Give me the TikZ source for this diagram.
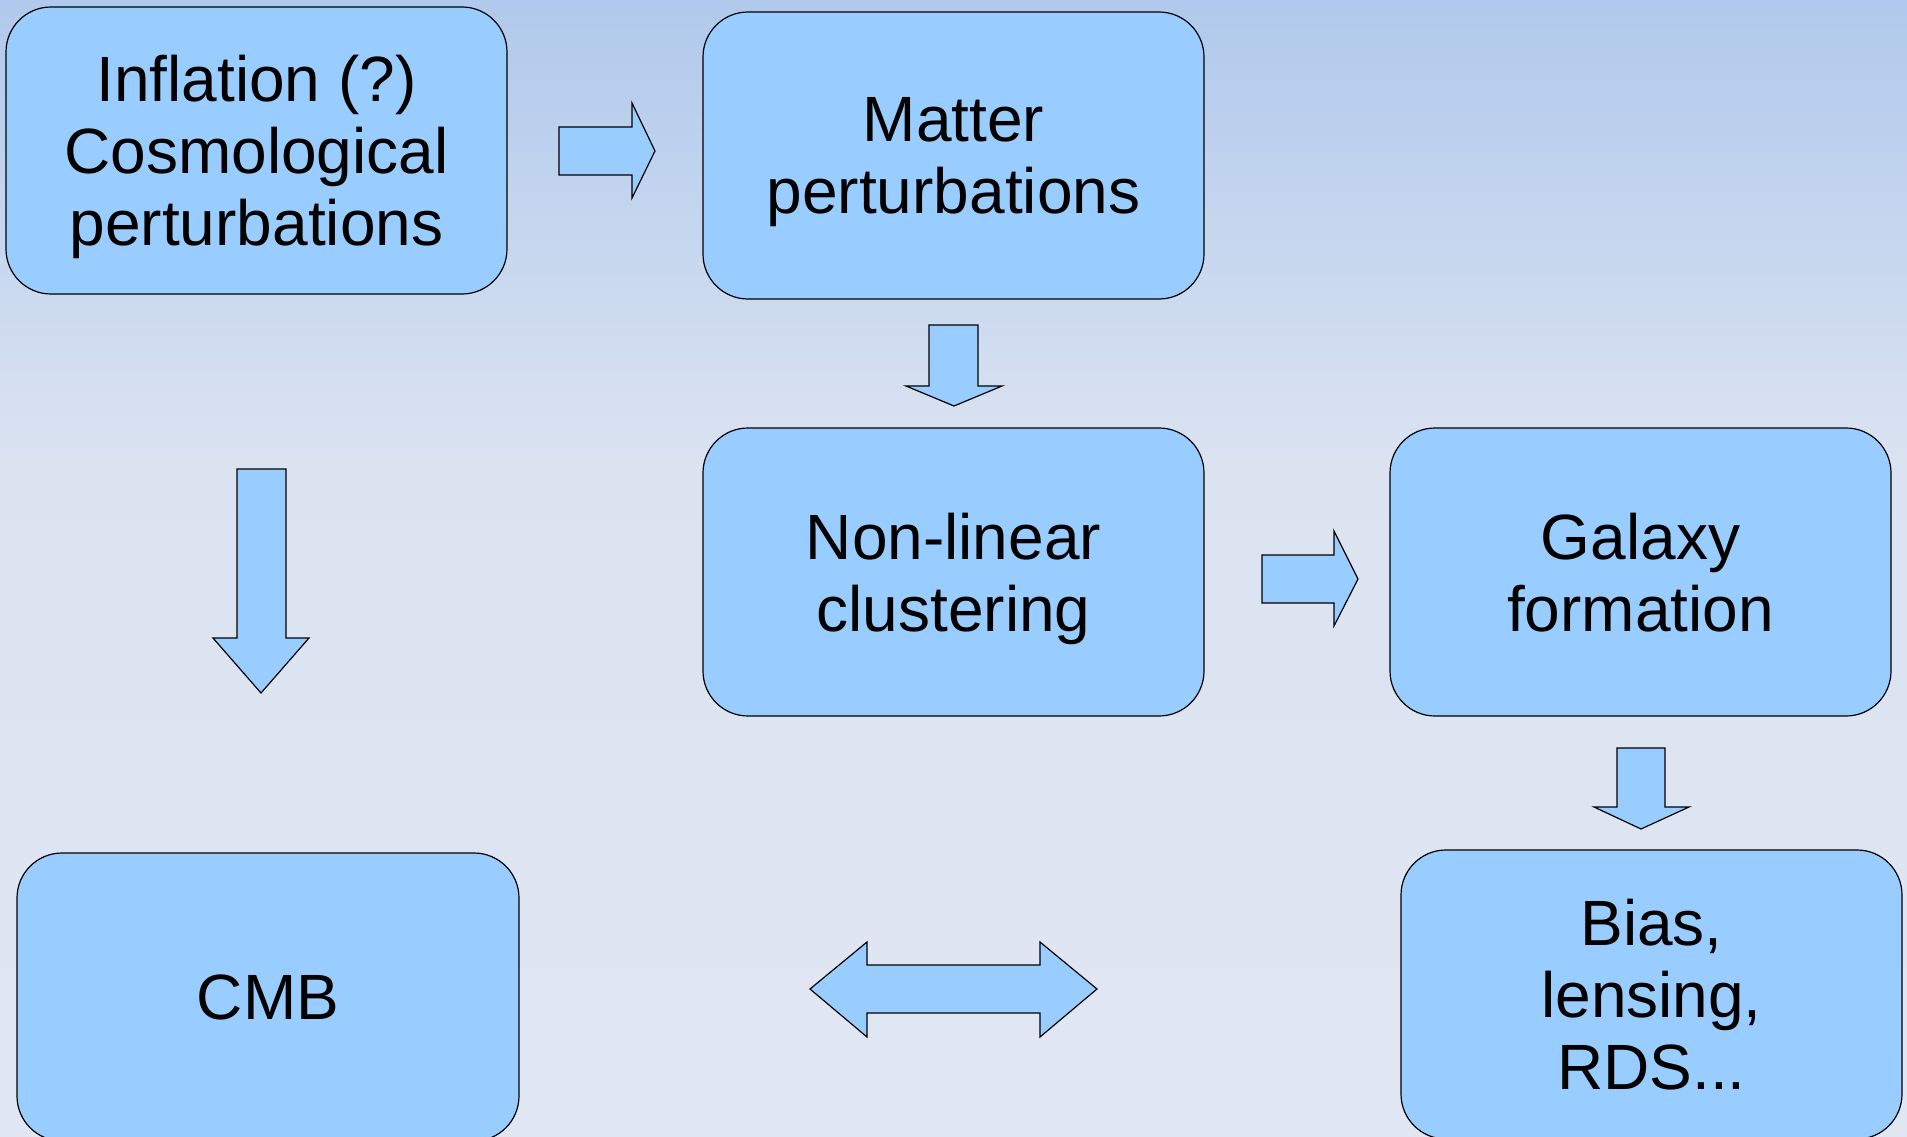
\documentclass[tikz,border=0pt]{standalone}
\usepackage{fontspec}
\setmainfont{Liberation Sans}
\definecolor{boxfill}{RGB}{153,204,255}
\definecolor{bgtop}{RGB}{176,201,236}
\definecolor{bgmid}{RGB}{219,227,241}
\definecolor{bgbot}{RGB}{225,231,242}
\tikzset{
  box/.style={draw=black, line width=1.2pt, fill=boxfill, rounded corners=45pt,
    minimum width=501pt, minimum height=287pt, inner sep=0pt, align=center,
    text depth=0pt, font=\fontsize{64}{72}\selectfont},
  blockarrow/.style={draw=black, line width=1.2pt, fill=boxfill, line join=miter}
}
\begin{document}
\begin{tikzpicture}[x=1pt,y=-1pt]
\useasboundingbox (0,0) rectangle (1907,1137);
\clip (0,0) rectangle (1907,1137);
\shade[top color=bgtop, bottom color=bgmid] (0,0) rectangle (1907,460);
\shade[top color=bgmid, bottom color=bgbot] (0,459) rectangle (1907,1137);

\node[box] (infl) at (256.5,150.5) {Inflation (?)\\Cosmological\\perturbations};
\node[box] (matter) at (953.5,155.5) {Matter\\perturbations};
\node[box, minimum height=288pt] (nonlin) at (953.5,572) {Non-linear\\clustering};
\node[box, minimum height=288pt] (galaxy) at (1640.5,572) {Galaxy\\formation};
\node[box, minimum width=502pt, minimum height=288pt] (cmb) at (268,997) {CMB};
\node[box, minimum height=289pt] (bias) at (1651.5,994.5) {Bias,\\lensing,\\RDS...};

% block arrows
\draw[blockarrow] (559,127) -- (632,127) -- (632,103) -- (655,151) -- (632,198) -- (632,175) -- (559,175) -- cycle;
\draw[blockarrow] (929,325) -- (978,325) -- (978,386) -- (1002,386) -- (954,406) -- (906,386) -- (929,386) -- cycle;
\draw[blockarrow] (237,469) -- (286,469) -- (286,638) -- (309,638) -- (261,693) -- (213,638) -- (237,638) -- cycle;
\draw[blockarrow] (1262,555) -- (1334,555) -- (1334,531) -- (1358,579) -- (1334,626) -- (1334,603) -- (1262,603) -- cycle;
\draw[blockarrow] (1617,748) -- (1665,748) -- (1665,807) -- (1689,807) -- (1641,829) -- (1594,807) -- (1617,807) -- cycle;
\draw[blockarrow] (810,989) -- (867,942) -- (867,965) -- (1040,965) -- (1040,942) -- (1097,989) -- (1040,1037) -- (1040,1013) -- (867,1013) -- (867,1037) -- cycle;
\end{tikzpicture}
\end{document}
